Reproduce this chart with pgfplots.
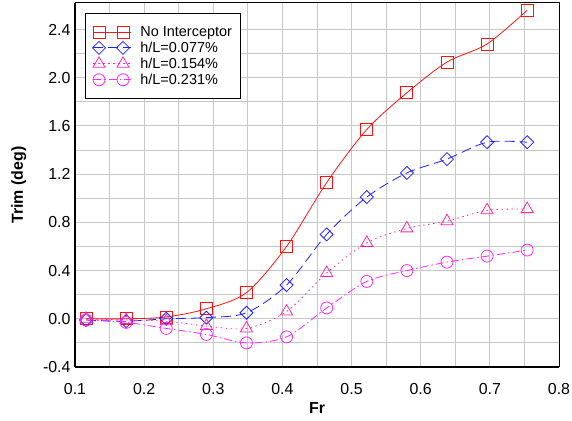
\documentclass[border=0pt]{standalone}
\usepackage{fontspec}
\setmainfont{Liberation Sans}
\usepackage{pgfplots}
\pgfplotsset{compat=1.18}
\usetikzlibrary{calc}
\definecolor{cRed}{RGB}{250,20,20}
\definecolor{cBlue}{RGB}{30,30,255}
\definecolor{cPink}{RGB}{255,40,170}
\definecolor{cMag}{RGB}{255,40,255}
\begin{document}
\begin{tikzpicture}
\begin{axis}[
  scale only axis, width=484bp, height=364bp,
  xmin=0.1, xmax=0.8, ymin=-0.4, ymax=2.62,
  xtick={0.1,0.2,0.3,0.4,0.5,0.6,0.7,0.8},
  ytick={-0.4,0,0.4,0.8,1.2,1.6,2.0,2.4},
  minor x tick num=1, minor y tick num=1,
  grid=both, grid style={draw=black!22, line width=0.9bp},
  major tick length=0pt, minor tick length=0pt,
  axis x line*=bottom, axis y line*=left,
  axis line style={line width=1.8bp},
  after end axis/.code={\draw[line width=1bp] (rel axis cs:0,1) -- (rel axis cs:1,1) -- (rel axis cs:1,0);},
  tick label style={font=\fontsize{16}{18}\selectfont},
  xticklabel style={inner sep=1bp, yshift=-15bp, /pgf/number format/.cd, fixed, fixed zerofill, precision=1, assume math mode=true},
  yticklabel style={xshift=-1bp, /pgf/number format/.cd, fixed, fixed zerofill, precision=1, assume math mode=true},
  xlabel={\textbf{Fr}}, ylabel={\textbf{Trim (deg)}},
  label style={font=\fontsize{16}{18}\selectfont},
  xlabel style={yshift=-4bp},
  ylabel style={yshift=10bp},
  legend style={at={(0.0207,0.9725)}, anchor=north west, line width=1bp,
    font=\fontsize{14.5}{17}\selectfont, row sep=0bp, inner xsep=7bp, inner ysep=11bp},
  legend cell align=left,
  legend image code/.code={
    \path (0bp,0bp) (45bp,0bp);
    \draw[#1,mark=none] (0bp,0bp) -- (38bp,0bp);
    \draw[#1,solid,only marks] plot coordinates {(6bp,0bp) (30bp,0bp)};
  },
  every axis plot/.append style={line width=0.8bp},
]
\addplot[color=cRed, draw=cRed, smooth, mark=square, mark size=6bp, mark options={solid, line width=0.8bp, draw=cRed}] coordinates {
(0.116,0.00) (0.174,0.00) (0.232,0.015) (0.290,0.083) (0.348,0.217) (0.406,0.60)
(0.464,1.13) (0.522,1.57) (0.580,1.875) (0.638,2.13) (0.696,2.28) (0.754,2.56)};
\addlegendentry{No Interceptor}
\addplot[color=cBlue, draw=cBlue, smooth, dash pattern=on 10bp off 5bp, mark=square, mark size=4.6bp, mark options={solid, line width=0.8bp, rotate=45, draw=cBlue}] coordinates {
(0.116,-0.01) (0.174,-0.02) (0.232,0.00) (0.290,0.01) (0.348,0.05) (0.406,0.28)
(0.464,0.70) (0.522,1.01) (0.580,1.21) (0.638,1.325) (0.696,1.465) (0.754,1.465)};
\addlegendentry{h/L=0.077\%}
\addplot[color=cPink, draw=cPink, smooth, dash pattern=on 1.5bp off 3.5bp, mark=triangle, mark size=7bp, mark options={solid, line width=0.8bp, draw=cPink}] coordinates {
(0.116,0.00) (0.174,-0.01) (0.232,-0.02) (0.290,-0.06) (0.348,-0.08) (0.406,0.06)
(0.464,0.38) (0.522,0.63) (0.580,0.75) (0.638,0.81) (0.696,0.90) (0.754,0.91)};
\addlegendentry{h/L=0.154\%}
\addplot[color=cMag, draw=cMag, smooth, dash pattern=on 8bp off 3bp on 1.5bp off 3bp, mark=o, mark size=6bp, mark options={solid, line width=0.8bp, draw=cMag}] coordinates {
(0.116,-0.01) (0.174,-0.03) (0.232,-0.08) (0.290,-0.13) (0.348,-0.20) (0.406,-0.15)
(0.464,0.09) (0.522,0.31) (0.580,0.40) (0.638,0.47) (0.696,0.52) (0.754,0.57)};
\addlegendentry{h/L=0.231\%}
\end{axis}
\path ($(current axis.south west)+(-75bp,-54bp)$) rectangle ($(current axis.north east)+(13bp,3bp)$);
\end{tikzpicture}
\end{document}
